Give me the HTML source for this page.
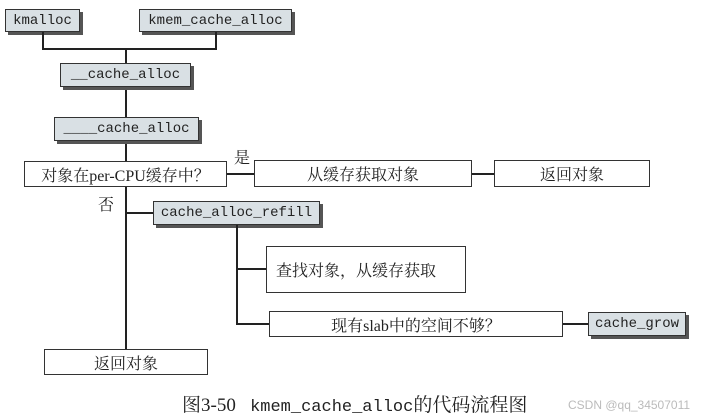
<!DOCTYPE html>
<html><head><meta charset="utf-8"><style>
body{margin:0;width:702px;height:419px;background:#fff;position:relative;overflow:hidden}
.b{position:absolute;box-sizing:border-box;border:1.5px solid #333;display:flex;align-items:center;justify-content:center;background:#fff;font-family:"Liberation Serif","Noto Serif CJK SC",serif;font-size:16px;color:#222}
.g{background:#d9e0e4;font-family:"Liberation Mono",monospace;font-size:14px;box-shadow:3px 3px 0 #555}
.l{position:absolute;background:#222}
.t{position:absolute;font-family:"Liberation Serif","Noto Serif CJK SC",serif;font-size:16px;color:#222}
</style></head><body>
<div class="b g" style="left:5px;top:9px;width:75px;height:23px">kmalloc</div>
<div class="b g" style="left:139px;top:9px;width:153px;height:23px">kmem_cache_alloc</div>
<div class="l" style="left:42px;top:32px;width:2px;height:18px"></div>
<div class="l" style="left:215px;top:32px;width:2px;height:18px"></div>
<div class="l" style="left:42px;top:48px;width:175px;height:2px"></div>
<div class="l" style="left:125px;top:48px;width:2px;height:302px"></div>
<div class="b g" style="left:60px;top:63px;width:131px;height:24px">__cache_alloc</div>
<div class="b g" style="left:54px;top:117px;width:145px;height:24px">____cache_alloc</div>
<div class="b" style="left:24px;top:161px;width:203px;height:26px">对象在per-CPU缓存中？</div>
<div class="t" style="left:234px;top:145px">是</div>
<div class="l" style="left:227px;top:173px;width:27px;height:2px"></div>
<div class="b" style="left:254px;top:160px;width:218px;height:27px">从缓存获取对象</div>
<div class="l" style="left:472px;top:173px;width:22px;height:2px"></div>
<div class="b" style="left:494px;top:160px;width:156px;height:27px">返回对象</div>
<div class="t" style="left:98px;top:192px">否</div>
<div class="l" style="left:125px;top:212px;width:28px;height:2px"></div>
<div class="b g" style="left:153px;top:201px;width:167px;height:24px">cache_alloc_refill</div>
<div class="l" style="left:236px;top:225px;width:2px;height:100px"></div>
<div class="l" style="left:236px;top:268px;width:30px;height:2px"></div>
<div class="b" style="left:266px;top:246px;width:200px;height:47px;justify-content:flex-start;padding-left:9px">查找对象，从缓存获取</div>
<div class="l" style="left:236px;top:323px;width:33px;height:2px"></div>
<div class="b" style="left:269px;top:311px;width:294px;height:26px">现有slab中的空间不够？</div>
<div class="l" style="left:563px;top:323px;width:25px;height:2px"></div>
<div class="b g" style="left:588px;top:312px;width:98px;height:24px">cache_grow</div>
<div class="b" style="left:44px;top:349px;width:164px;height:26px">返回对象</div>
<div class="t" style="left:182px;top:390px;font-size:19px;white-space:nowrap">图3-50&nbsp;&nbsp;&nbsp;<span style="font-family:'Liberation Mono',monospace;font-size:17px">kmem_cache_alloc</span>的代码流程图</div>
<div class="t" style="left:568px;top:398px;font-family:'Liberation Sans',sans-serif;font-size:12px;color:#bbb">CSDN @qq_34507011</div>
</body></html>
